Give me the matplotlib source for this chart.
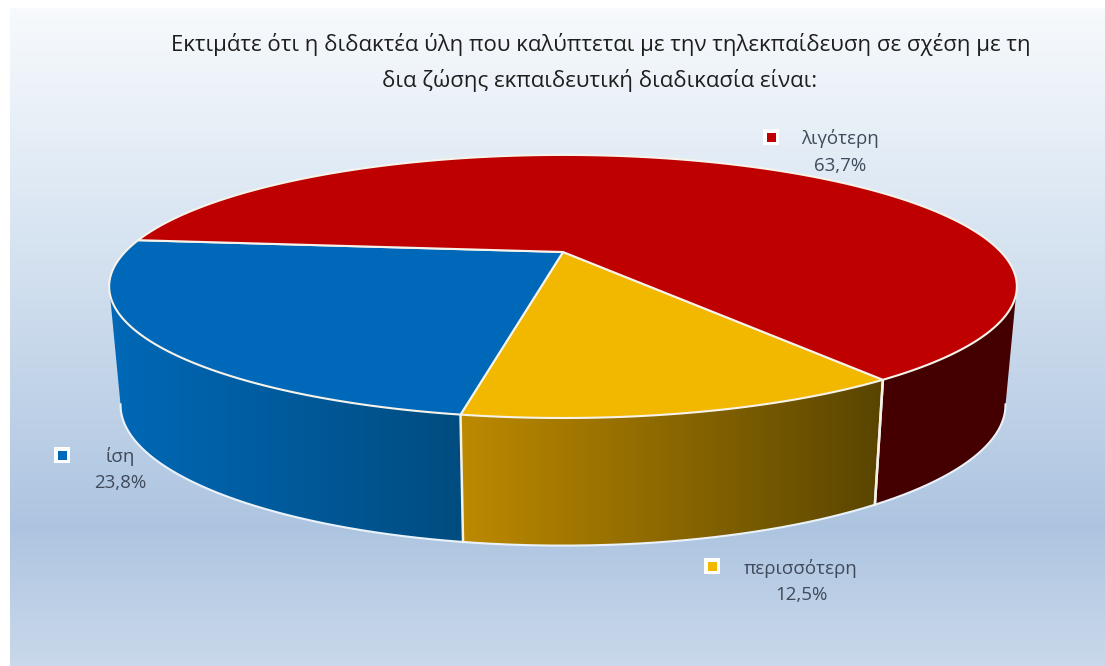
import numpy as np
import matplotlib
matplotlib.use("Agg")
import matplotlib.pyplot as plt
from matplotlib.colors import LinearSegmentedColormap
from matplotlib.patches import Polygon, Rectangle

# --- data ---
categories = ["περισσότερη", "ίση", "λιγότερη"]
shares = [12.5, 23.8, 63.7]
value_labels = ["12,5%", "23,8%", "63,7%"]
title_lines = ["Εκτιμάτε ότι η διδακτέα ύλη που καλύπτεται με την τηλεκπαίδευση σε σχέση με τη",
               "δια ζώσης εκπαιδευτική διαδικασία είναι:"]

# --- style ---
top_colors = ["#F2B800", "#0068B8", "#BE0000"]
side_left = [(0.74, 0.54, 0.0), (0.0, 0.41, 0.72), (0.27, 0.0, 0.0)]
side_right = [(0.35, 0.27, 0.0), (0.0, 0.30, 0.50), (0.27, 0.0, 0.0)]
marker_pos = [(712, 566), (62, 455), (771, 137)]
label_pos = [(801, 568), (120, 456), (840, 139)]
START_DEG = -35.0
W, H = 1105, 666

plt.rcParams["font.family"] = ["Open Sans", "DejaVu Sans"]
fig = plt.figure(figsize=(W / 100, H / 100), dpi=100, facecolor="white")
ax = fig.add_axes([0, 0, 1, 1])
ax.set_xlim(0, W)
ax.set_ylim(H, 0)
ax.axis("off")

# background panel
bg = LinearSegmentedColormap.from_list("bg", [
    (0.0, (0.97, 0.98, 0.99)), (0.25, (0.88, 0.92, 0.96)),
    (0.79, (0.68, 0.77, 0.88)), (1.0, (0.79, 0.85, 0.92))])
ax.imshow(np.linspace(0, 1, 256)[:, None], cmap=bg, extent=[10, W, H, 8], aspect="auto", zorder=0)

# perspective projection of the pie disc
CX, CY, K, A, B = 563.0, 252.0, -0.262, 122.5, 438.0
SX, SY, CY_BOTTOM = 0.975, 1.07, 368.0


def project(deg, bottom=False):
    t = np.radians(deg)
    u, v = -np.sin(t), np.cos(t)
    d = 1 + K * v
    if bottom:
        return CX + SX * B * u / d, CY_BOTTOM + SY * A * v / d
    return CX + B * u / d, CY + A * v / d


edges = START_DEG + 3.6 * np.concatenate([[0], np.cumsum(shares)])
LIM = 75.0


def wrap(d):
    return (d + 180) % 360 - 180


# side wall: a horizontal gradient clipped to the wall of each slice
for i in range(len(shares)):
    a = np.arange(edges[i], edges[i + 1] + 0.25, 0.25)
    a = a[np.abs(wrap(a)) <= LIM]
    if len(a) < 2:
        continue
    xt, yt = project(a)
    xb, yb = project(a, True)
    pts = np.column_stack([np.r_[xt, xb[::-1]], np.r_[yt, yb[::-1]]])
    poly = Polygon(pts, closed=True, facecolor="none", edgecolor="none", zorder=1)
    ax.add_patch(poly)
    xl, xr = pts[:, 0].min(), pts[:, 0].max()
    cmap = LinearSegmentedColormap.from_list(f"side{i}", [side_left[i], side_right[i]])
    im = ax.imshow(np.linspace(0, 1, 256)[None, :], cmap=cmap, aspect="auto", zorder=2,
                   extent=[xl, xr, pts[:, 1].max(), pts[:, 1].min()])
    im.set_clip_path(poly)

# outline of the bottom rim and the slice dividers on the wall
rim = np.linspace(-LIM, LIM, 300)
bx, by = project(rim, True)
ax.plot(bx, by, color="#EAF2FA", lw=1.5, zorder=3)
for e in edges:
    if abs(wrap(e)) <= LIM:
        xt, yt = project(e)
        xb, yb = project(e, True)
        ax.plot([xt, xb], [yt, yb], color="#F4F1E6", lw=1.8, zorder=4)

# top face
for i in range(len(shares)):
    a = np.linspace(edges[i], edges[i + 1], 300)
    xs, ys = project(a)
    pts = np.column_stack([np.r_[CX, xs], np.r_[CY, ys]])
    ax.add_patch(Polygon(pts, closed=True, facecolor=top_colors[i], edgecolor="#F7F3EA",
                         lw=1.5, joinstyle="round", zorder=5))

# labels
for i in range(len(shares)):
    mx, my = marker_pos[i]
    ax.add_patch(Rectangle((mx - 8, my - 8), 16, 16, facecolor="white", edgecolor="none", zorder=6))
    ax.add_patch(Rectangle((mx - 4.5, my - 4.5), 9, 9, facecolor=top_colors[i], edgecolor="none", zorder=7))
    lx, ly = label_pos[i]
    ax.text(lx, ly, categories[i], ha="center", va="center", fontsize=13.5, color="#3F4A5A", zorder=8)
    ax.text(lx, ly + 27, value_labels[i], ha="center", va="center", fontsize=13.5, color="#3F4A5A", zorder=8)

ax.text(601, 45, title_lines[0], ha="center", va="center", fontsize=16, color="#1E1E1E", zorder=8)
ax.text(600, 80, title_lines[1], ha="center", va="center", fontsize=16, color="#1E1E1E", zorder=8)

ax.set_xlim(0, W)
ax.set_ylim(H, 0)
fig.savefig("out.png", dpi=100, facecolor="white")
